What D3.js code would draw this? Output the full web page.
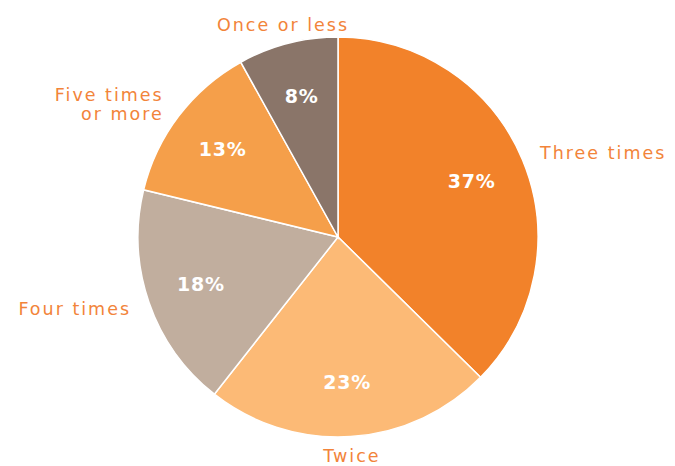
<!DOCTYPE html>
<html>
<head>
<meta charset="utf-8">
<script src="https://cdn.jsdelivr.net/npm/d3@7"></script>
<style>
  body { margin: 0; background: #fff; }
  svg { display: block; }
</style>
</head>
<body>
<svg id="chart"></svg>
<script>
// categories, clockwise from 12 o'clock
const categories = ["Three times", "Twice", "Four times", "Five times|or more", "Once or less"];
const shares = [37, 23, 18, 13, 8];
const sliceColors = ["#F2822A", "#FCBA76", "#C1AE9E", "#F59F4A", "#8A7569"];

const width = 675, height = 466;
const cx = 338, cy = 237, radius = 200;

const svg = d3.select("#chart")
    .attr("width", width)
    .attr("height", height);

const g = svg.append("g").attr("transform", `translate(${cx},${cy})`);

const data = categories.map((c, i) => ({ name: c, value: shares[i], color: sliceColors[i] }));

const pie = d3.pie().value(d => d.value).sort(null);
const arcs = pie(data);

const arc = d3.arc().innerRadius(0).outerRadius(radius);
const pctArc = d3.arc().innerRadius(145).outerRadius(145);
const labelArc = d3.arc().innerRadius(219).outerRadius(219);

// slices
g.append("g")
    .attr("stroke", "#fff")
    .attr("stroke-width", 1.5)
    .selectAll("path")
    .data(arcs)
    .join("path")
    .attr("fill", d => d.data.color)
    .attr("d", arc);

// percent labels inside
g.append("g")
    .selectAll("text")
    .data(arcs)
    .join("text")
    .attr("transform", d => `translate(${pctArc.centroid(d)})`)
    .attr("text-anchor", "middle")
    .attr("dy", "0.36em")
    .attr("fill", "#fff")
    .attr("font-family", "DejaVu Sans, sans-serif")
    .attr("font-weight", "bold")
    .attr("font-size", 19)
    .attr("letter-spacing", 0.8)
    .text(d => d.data.value + "%");

// category labels outside
const outer = g.append("g")
    .selectAll("text")
    .data(arcs)
    .join("text")
    .attr("transform", d => `translate(${labelArc.centroid(d)})`)
    .attr("text-anchor", d => {
        const x = labelArc.centroid(d)[0];
        return Math.abs(x) < 100 ? "middle" : (x > 0 ? "start" : "end");
    })
    .attr("fill", "#F2843A")
    .attr("font-family", "DejaVu Sans, sans-serif")
    .attr("font-size", 17.5)
    .attr("letter-spacing", 2);

outer.each(function(d) {
    const lines = d.data.name.split("|");
    const t = d3.select(this);
    const y0 = -(lines.length - 1) * 0.55;
    lines.forEach((line, i) => {
        t.append("tspan")
            .attr("x", 0)
            .attr("dy", i === 0 ? (y0 + 0.36) + "em" : "1.1em")
            .text(line);
    });
});
</script>
</body>
</html>
